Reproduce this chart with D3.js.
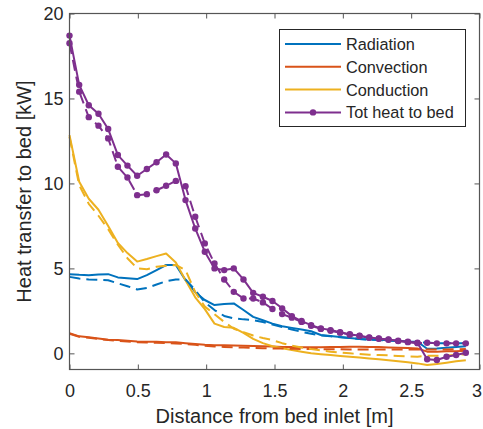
<!DOCTYPE html>
<html><head><meta charset="utf-8">
<script src="https://cdn.jsdelivr.net/npm/d3@7"></script>
<style>body{margin:0;background:#fff}svg{display:block}text{font-family:"Liberation Sans",Arial,sans-serif;fill:#262626}</style>
</head><body><svg id="c" width="483" height="429"></svg>
<script>
const distance = [0,0.071,0.141,0.212,0.283,0.354,0.424,0.495,0.566,0.637,0.707,0.778,0.849,0.920,0.990,1.061,1.132,1.202,1.273,1.344,1.415,1.485,1.556,1.627,1.698,1.768,1.839,1.910,1.980,2.051,2.122,2.193,2.263,2.334,2.405,2.476,2.546,2.617,2.688,2.759,2.829,2.900];
const radSolid = [4.66,4.62,4.6,4.64,4.66,4.47,4.42,4.37,4.6,4.9,5.2,5.2,4.31,3.6,3.14,2.84,2.9,2.94,2.55,2.15,1.95,1.75,1.6,1.5,1.4,1.3,1.08,1.02,0.96,0.9,0.85,0.82,0.8,0.77,0.74,0.7,0.68,0.27,0.29,0.33,0.38,0.42];
const radDashed = [4.5,4.4,4.35,4.33,4.3,4.12,3.95,3.76,3.85,4.05,4.25,4.35,4.35,3.72,3.0,2.55,2.2,2.06,2.0,1.96,1.85,1.7,1.55,1.4,1.27,1.15,1.05,1.0,0.95,0.9,0.85,0.8,0.78,0.75,0.72,0.68,0.65,0.62,0.6,0.6,0.6,0.6];
const convSolid = [1.18,1.0,0.95,0.88,0.8,0.78,0.74,0.7,0.69,0.68,0.66,0.65,0.6,0.55,0.5,0.47,0.47,0.46,0.45,0.43,0.42,0.4,0.38,0.37,0.36,0.36,0.36,0.37,0.38,0.39,0.39,0.38,0.37,0.35,0.33,0.31,0.29,0.1,0.1,0.12,0.13,0.15];
const convDashed = [1.15,0.98,0.92,0.85,0.78,0.74,0.7,0.66,0.64,0.62,0.6,0.58,0.55,0.5,0.45,0.4,0.38,0.36,0.34,0.32,0.3,0.29,0.28,0.27,0.26,0.25,0.25,0.24,0.24,0.23,0.23,0.22,0.22,0.22,0.22,0.22,0.22,0.22,0.22,0.23,0.24,0.25];
const condSolid = [12.84,10.1,9.1,8.45,7.5,6.5,5.9,5.4,5.55,5.72,5.88,5.35,4.3,3.3,2.6,1.75,1.55,1.5,1.2,0.85,0.6,0.42,0.3,0.2,0.1,0.0,-0.05,-0.1,-0.15,-0.2,-0.25,-0.3,-0.35,-0.4,-0.46,-0.52,-0.59,-0.69,-0.63,-0.55,-0.47,-0.4];
const condDashed = [12.74,9.9,8.8,8.1,7.3,6.4,5.6,5.0,4.95,5.1,5.15,5.2,4.9,3.6,2.75,2.3,1.85,1.45,1.25,1.05,0.9,0.78,0.6,0.45,0.35,0.25,0.17,0.1,0.05,0.0,-0.04,-0.08,-0.1,-0.12,-0.15,-0.18,-0.2,-0.14,-0.14,-0.12,-0.1,-0.05];
const totSolid = [18.7,15.8,14.6,14.1,13.2,11.67,11.05,10.45,10.85,11.25,11.7,11.18,9.02,7.35,5.98,5.0,4.9,5.0,4.35,3.56,3.33,3.08,2.65,2.19,1.9,1.66,1.47,1.37,1.24,1.13,1.04,0.94,0.88,0.82,0.74,0.68,0.62,-0.35,-0.39,-0.2,-0.1,0.04];
const totDashed = [18.25,15.4,13.9,13.4,12.65,10.98,10.35,9.31,9.37,9.6,9.86,10.15,9.84,8.04,6.47,5.29,4.35,3.62,3.23,3.23,3.0,2.61,2.31,2.1,1.85,1.62,1.44,1.33,1.22,1.1,1.02,0.92,0.86,0.8,0.72,0.66,0.6,0.62,0.59,0.59,0.59,0.59];
const xTicks = [0,0.5,1,1.5,2,2.5,3];
const yTicks = [0,5,10,15,20];
const legendLabels = ["Radiation","Convection","Conduction","Tot heat to bed"];
const colors = ["#0072BD","#D95319","#EDB120","#7E2F8E"];

const L=69.5,R=479.5,T=13.5,B=369.5;
const svg=d3.select("#c");
const x=d3.scaleLinear().domain([0,3]).range([L,R]);
const y=d3.scaleLinear().domain([-0.95,20]).range([B,T]);
const line=d3.line().x((d,i)=>x(distance[i])).y(d=>y(d));

const series=[
 {v:radSolid,c:colors[0],dash:null},
 {v:convSolid,c:colors[1],dash:null},
 {v:condSolid,c:colors[2],dash:null},
 {v:radDashed,c:colors[0],dash:"11,6"},
 {v:convDashed,c:colors[1],dash:"11,6"},
 {v:condDashed,c:colors[2],dash:"11,6"},
 {v:totSolid,c:colors[3],dash:null,m:true},
 {v:totDashed,c:colors[3],dash:"11,6",m:true}
];
const g=svg.append("g");
series.forEach(s=>{
  g.append("path").attr("d",line(s.v)).attr("fill","none").attr("stroke",s.c)
   .attr("stroke-width",2).attr("stroke-dasharray",s.dash).attr("stroke-linejoin","round");
  if(s.m){
    g.selectAll(null).data(s.v).enter().append("circle")
     .attr("cx",(d,i)=>x(distance[i])).attr("cy",d=>y(d)).attr("r",3.2).attr("fill",s.c);
  }
});

// axes box
const ax=svg.append("g");
ax.append("rect").attr("x",L).attr("y",T).attr("width",R-L).attr("height",B-T)
  .attr("fill","none").attr("stroke","#555").attr("stroke-width",1.2);
const xa=ax.append("g").attr("transform",`translate(0,${B})`)
  .call(d3.axisBottom(x).tickValues(xTicks).tickSize(-5).tickPadding(15).tickFormat(d3.format("")));
const xt=ax.append("g").attr("transform",`translate(0,${T})`)
  .call(d3.axisTop(x).tickValues(xTicks).tickSize(-5).tickFormat(""));
const ya=ax.append("g").attr("transform",`translate(${L},0)`)
  .call(d3.axisLeft(y).tickValues(yTicks).tickSize(-5).tickPadding(6));
const yr=ax.append("g").attr("transform",`translate(${R},0)`)
  .call(d3.axisRight(y).tickValues(yTicks).tickSize(-5).tickFormat(""));
[xa,xt,ya,yr].forEach(a=>{a.select(".domain").remove();a.selectAll("line").attr("stroke","#555");
  a.selectAll("text").style("font-size","18px").attr("fill","#262626");});
// keep the last x tick label inside the page
xa.selectAll(".tick text").filter(d=>d===3).attr("dx",-3);

svg.append("text").attr("x",(L+R)/2).attr("y",423).attr("text-anchor","middle")
  .style("font-size","20px").text("Distance from bed inlet [m]");
svg.append("text").attr("transform",`translate(31,${(T+B)/2}) rotate(-90)`).attr("text-anchor","middle")
  .style("font-size","20px").text("Heat transfer to bed [kW]");

// legend
const lg=svg.append("g");
lg.append("rect").attr("x",279.5).attr("y",29.5).attr("width",186).attr("height",97)
  .attr("fill","#fff").attr("stroke","#262626").attr("stroke-width",1);
legendLabels.forEach((t,i)=>{
  const yy=44+i*22.8;
  lg.append("line").attr("x1",285).attr("x2",341).attr("y1",yy).attr("y2",yy)
    .attr("stroke",colors[i]).attr("stroke-width",2);
  if(i===3) lg.append("circle").attr("cx",313).attr("cy",yy).attr("r",3.2).attr("fill",colors[i]);
  lg.append("text").attr("x",346).attr("y",yy+6).style("font-size","16.3px").text(t);
});
</script></body></html>
